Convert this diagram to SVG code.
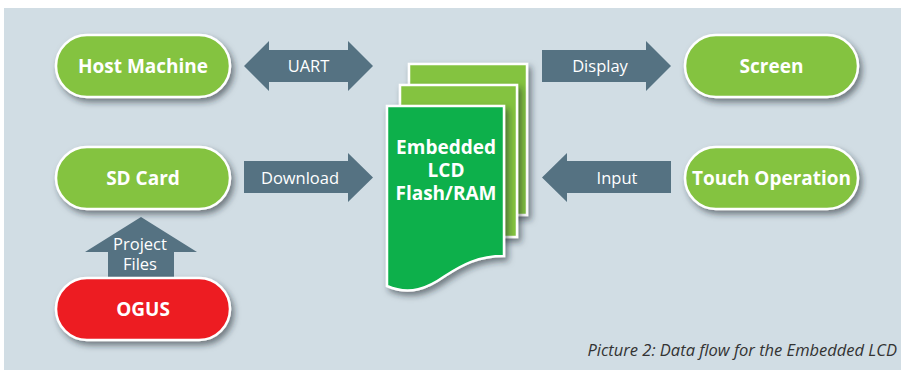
<svg xmlns="http://www.w3.org/2000/svg" width="901" height="370" viewBox="0 0 901 370">
<defs>
<filter id="sh" x="-20%" y="-20%" width="150%" height="160%">
<feDropShadow dx="3" dy="4" stdDeviation="3" flood-color="#1e2a30" flood-opacity="0.55"/>
</filter>
<style>
.pill{fill:#84c341;stroke:#fff;stroke-width:2.5;filter:url(#sh)}
.red{fill:#ed1c24}
.arr{fill:#557282}
.nl{font-family:"Open Sans","Liberation Sans",sans-serif;font-weight:bold;font-size:19px;fill:#fff;text-anchor:middle}
.al{font-family:"Open Sans","Liberation Sans",sans-serif;font-size:16.5px;fill:#fff;text-anchor:middle}
.pg{stroke:#fff;stroke-width:2.5;filter:url(#sh)}
</style>
</defs>
<rect x="0" y="0" width="901" height="370" fill="#ffffff"/>
<rect x="4" y="8" width="897" height="362" fill="#d1dde4"/>

<g id="connectors">
<g id="uart">
<polygon class="arr" points="244,66 269,41 269,50 348,50 348,41 373,66 348,91 348,82 269,82 269,91"/>
<text class="al" x="308.5" y="72">UART</text>
</g>
<g id="download">
<polygon class="arr" points="244,161 348,161 348,153 373,177.5 348,202 348,193 244,193"/>
<text class="al" x="300" y="183.5">Download</text>
</g>
<g id="display">
<polygon class="arr" points="542,50 646,50 646,41 671,66 646,91 646,82 542,82"/>
<text class="al" x="600" y="72">Display</text>
</g>
<g id="input">
<polygon class="arr" points="671,161 567,161 567,153 542,177.5 567,202 567,193 671,193"/>
<text class="al" x="617" y="183.5">Input</text>
</g>
<g id="project-files">
<polygon class="arr" points="141,217 197,252 174,252 174,277 108,277 108,252 85,252"/>
<text class="al" x="140" y="250">Project</text>
<text class="al" x="140" y="270">Files</text>
</g>
</g>

<g id="host-machine">
<rect class="pill" x="56" y="35" width="174" height="62" rx="31"/>
<text class="nl" x="143" y="73">Host Machine</text>
</g>
<g id="sd-card">
<rect class="pill" x="56" y="147" width="174" height="62" rx="31"/>
<text class="nl" x="143" y="185">SD Card</text>
</g>
<g id="ogus">
<rect class="pill red" x="56" y="278" width="174" height="62" rx="31"/>
<text class="nl" x="143" y="316">OGUS</text>
</g>
<g id="screen">
<rect class="pill" x="685" y="35" width="173" height="62" rx="31"/>
<text class="nl" x="771.5" y="73">Screen</text>
</g>
<g id="touch-operation">
<rect class="pill" x="685" y="147" width="173" height="62" rx="31"/>
<text class="nl" x="771.5" y="185">Touch Operation</text>
</g>

<g id="embedded-lcd">
<rect class="pg" x="409" y="64" width="118" height="151" fill="#84c341"/>
<rect class="pg" x="400" y="85" width="117" height="152" fill="#84c341"/>
<path class="pg" fill="#0db04b" d="M387,106 H504 V256 C478,256 462,265 445,276 C428,288 410,296 387,286 Z"/>
<text class="nl" x="446" y="153.5">Embedded</text>
<text class="nl" x="446" y="176.5">LCD</text>
<text class="nl" x="446" y="199.5">Flash/RAM</text>
</g>

<text x="897" y="356" text-anchor="end" font-family="'Open Sans','Liberation Sans',sans-serif" font-style="italic" font-size="16.5" fill="#333">Picture 2: Data flow for the Embedded LCD</text>
</svg>
